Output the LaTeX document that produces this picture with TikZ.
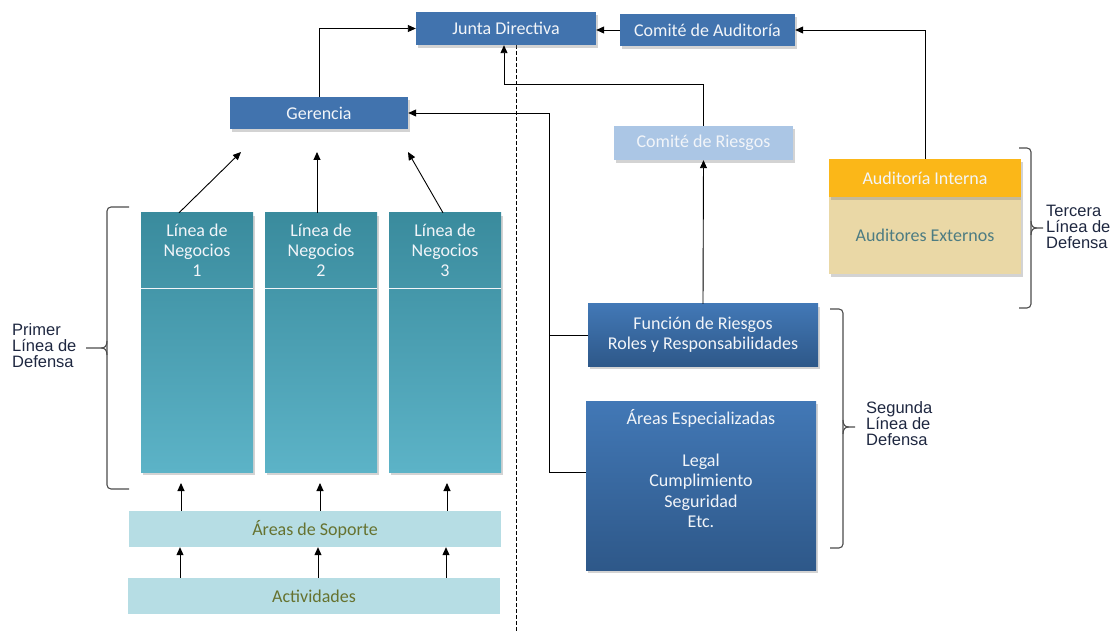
\documentclass[tikz,border=0pt]{standalone}
\usepackage{fontspec}
\setmainfont{Carlito}
\newfontfamily\llavefont{Liberation Sans}
\usetikzlibrary{arrows.meta,shadows}
\definecolor{azul}{HTML}{4173AE}
\definecolor{azulclaro}{HTML}{ABC6E5}
\definecolor{azultop}{HTML}{4278B6}
\definecolor{azulbot}{HTML}{2E5889}
\definecolor{tealtop}{HTML}{3A8B9D}
\definecolor{tealbot}{HTML}{5CB3C7}
\definecolor{celeste}{HTML}{B6DDE4}
\definecolor{oliva}{HTML}{66722F}
\definecolor{naranja}{HTML}{FBB718}
\definecolor{arena}{HTML}{EAD8A6}
\definecolor{gristeal}{HTML}{4D7C82}
\definecolor{blanco}{HTML}{F2F5F9}
\definecolor{tinta}{HTML}{1E2740}
\begin{document}
\begin{tikzpicture}[x=1pt,y=-1pt,
    caja/.style={inner sep=0pt, text=blanco, font=\fontsize{18}{20.5}\selectfont,
      drop shadow={opacity=0.35, shadow xshift=2pt, shadow yshift=-3pt}},
    plana/.style={inner sep=0pt, font=\fontsize{18}{20.5}\selectfont},
    flecha/.style={-{Triangle[length=8pt,width=7pt]}, line width=0.9pt},
    llave/.style={line width=1.1pt, draw=black!70, rounded corners=4pt},
    rotulo/.style={align=left, anchor=west, text=tinta, inner sep=0pt,
      font=\llavefont\fontsize{16.5}{16}\selectfont}]
\useasboundingbox (0,0) rectangle (1112,631);

\draw[line width=1pt, dash pattern=on 4pt off 2pt] (516,45) -- (516,631);

\node[caja, fill=azul, minimum width=180, minimum height=33] (junta) at (506,28.5) {Junta Directiva};
\node[caja, fill=azul, minimum width=175, minimum height=32] (caudit) at (707.5,30) {Comité de Auditoría};
\node[caja, fill=azul, minimum width=178, minimum height=32] (gerencia) at (319,113) {Gerencia};
\node[caja, fill=azulclaro, minimum width=179, minimum height=34] (criesgos) at (703.5,143) {Comité de Riesgos};
\node[caja, fill=arena, text=gristeal, minimum width=192, minimum height=77] (aexternos) at (925,235.5) {Auditores Externos};
\node[caja, fill=naranja, minimum width=192, minimum height=38] (ainterna) at (925,178) {Auditoría Interna};

\foreach \i/\x in {1/197,2/321,3/445} {
  \node[caja, top color=tealtop, bottom color=tealbot, minimum width=112, minimum height=259] (ldn\i) at (\x,342.5) {};
  \node[plana, text=blanco, align=center, anchor=north, font=\fontsize{18}{20}\selectfont] (tldn\i) at (\x,224) {Línea de\\Negocios\\\i};
  \draw[blanco, line width=1pt] (ldn\i.west |- 0,289) -- (ldn\i.east |- 0,289);
}

\node[plana, fill=celeste, text=oliva, minimum width=372, minimum height=36] (soporte) at (315,529) {Áreas de Soporte};
\node[plana, fill=celeste, text=oliva, minimum width=372, minimum height=36] (activ) at (314,596) {Actividades};

\node[caja, top color=azultop, bottom color=azulbot, minimum width=230, minimum height=62, align=center, font=\fontsize{18}{20}\selectfont] (funcion) at (703,335) {Función de Riesgos\\Roles y Responsabilidades};
\node[caja, top color=azultop, bottom color=azulbot, minimum width=230, minimum height=169] (areasesp) at (701,485.5) {};
\node[plana, text=blanco, align=center, anchor=north] (tesp) at (701,409.5) {Áreas Especializadas\\[21pt]Legal\\Cumplimiento\\Seguridad\\Etc.};

\coordinate (g1) at (241,152);
\coordinate (g2) at (317,152);
\coordinate (g3) at (408,152);
\coordinate (codo) at (504,84);

\draw[flecha] (gerencia.north) |- (junta.west);
\draw[flecha] (caudit.west) -- (caudit.west -| junta.east);
\draw[flecha] (ainterna.north) |- (caudit.east);
\draw[flecha] (criesgos.north) |- (codo) -- (codo |- junta.south);
\draw[flecha] (funcion.north) -- (criesgos.south);
\draw[flecha] ([yshift=13.5pt]areasesp.west) -| (549,113) -- (gerencia.east);
\draw[line width=0.9pt] (funcion.west) -- (funcion.west -| 549,0);

\draw[flecha] ([xshift=-18pt]ldn1.north) -- (g1);
\draw[flecha] ([xshift=-4pt]ldn2.north) -- (g2);
\draw[flecha] ([xshift=-2pt]ldn3.north) -- (g3);

\foreach \x in {181,320,447}
  \draw[flecha] (soporte.north -| \x,0) -- (\x,483);
\foreach \x in {180,318,446}
  \draw[flecha] (activ.north -| \x,0) -- (soporte.south -| \x,0);

\draw[llave] (129,207) -- (107,207) -- (107,489) -- (129,489);
\draw[llave, rounded corners=0] (86,348) -- (101,348) .. controls (105,348) and (107,346) .. (107,341);
\draw[llave, rounded corners=0] (101,348) .. controls (105,348) and (107,350) .. (107,355);
\node[rotulo] (primer) at (12,346) {Primer\\Línea de\\Defensa};

\draw[llave] (830,309) -- (843,309) -- (843,548) -- (830,548);
\draw[llave, rounded corners=0] (855,427) -- (849,427) .. controls (845,427) and (843,425) .. (843,420);
\draw[llave, rounded corners=0] (849,427) .. controls (845,427) and (843,429) .. (843,434);
\node[rotulo] (segunda) at (866,424) {Segunda\\Línea de\\Defensa};

\draw[llave] (1019,148) -- (1031,148) -- (1031,308) -- (1019,308);
\draw[llave, rounded corners=0] (1043,228) -- (1037,228) .. controls (1033,228) and (1031,226) .. (1031,221);
\draw[llave, rounded corners=0] (1037,228) .. controls (1033,228) and (1031,230) .. (1031,235);
\node[rotulo] (tercera) at (1046,227) {Tercera\\Línea de\\Defensa};
\end{tikzpicture}
\end{document}
